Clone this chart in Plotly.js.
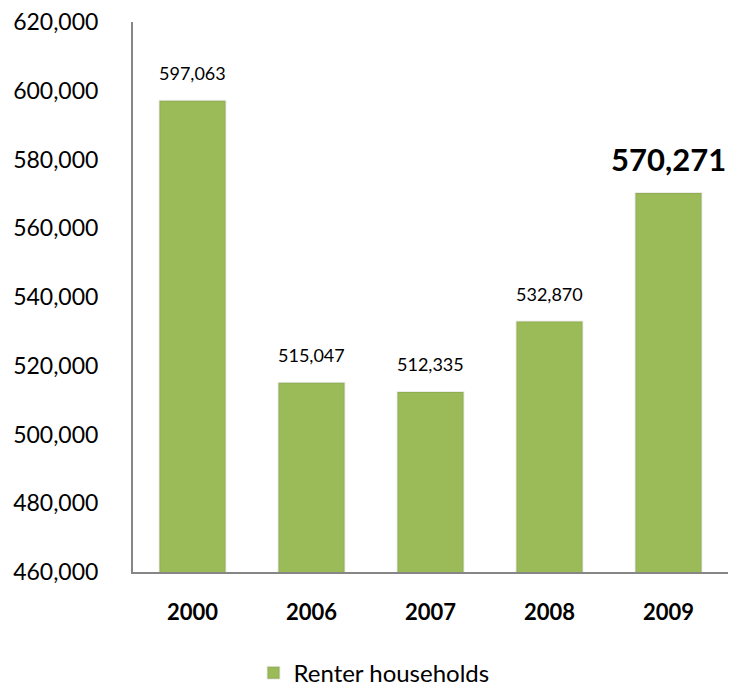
<!DOCTYPE html>
<html>
<head>
<meta charset="utf-8">
<script src="https://cdn.plot.ly/plotly-3.0.1.min.js"></script>
<style>html,body{margin:0;padding:0;background:#fff}#chart{width:748px;height:694px}</style>
</head>
<body>
<div id="chart"></div>
<script>
var years = ['2000', '2006', '2007', '2008', '2009'];
var renterHouseholds = [597063, 515047, 512335, 532870, 570271];
var seriesName = 'Renter households';
var yTicks = [460000, 480000, 500000, 520000, 540000, 560000, 580000, 600000, 620000];

var FONT = 'Lato, "Open Sans", sans-serif';
var GREEN = '#9BBB59';

function fmt(v) { return v.toLocaleString('en-US'); }

var trace = {
  type: 'bar',
  x: years,
  y: renterHouseholds,
  name: seriesName,
  marker: { color: GREEN, line: { color: 'rgba(0,0,0,0.07)', width: 2 } },
  hoverinfo: 'x+y',
  showlegend: true
};

var annotations = years.map(function (yr, i) {
  var last = i === years.length - 1;
  return {
    x: i, y: renterHouseholds[i], xref: 'x', yref: 'y',
    text: last ? '<b>' + fmt(renterHouseholds[i]) + '</b>' : fmt(renterHouseholds[i]),
    showarrow: false, yanchor: 'bottom', yshift: last ? 13 : 15,
    font: { family: FONT, size: last ? 31 : 18, color: '#000' }
  };
});

var layout = {
  width: 748, height: 694,
  margin: { l: 133, r: 20, t: 22, b: 122, autoexpand: false },
  paper_bgcolor: '#fff', plot_bgcolor: '#fff',
  bargap: 0.445,
  font: { family: FONT, color: '#000' },
  xaxis: {
    type: 'category', range: [-0.5, 4.5],
    showline: true, linecolor: '#868686', linewidth: 2,
    ticks: 'outside', ticklen: 20, tickcolor: 'rgba(0,0,0,0)',
    showgrid: false, zeroline: false,
    tickfont: { family: FONT, size: 22, weight: 'bold', color: '#000' }
  },
  yaxis: {
    range: [460000, 620000], tickvals: yTicks,
    ticktext: yTicks.map(fmt),
    showline: true, linecolor: '#868686', linewidth: 2,
    ticks: 'outside', ticklen: 28, tickcolor: 'rgba(0,0,0,0)',
    showgrid: false, zeroline: false,
    tickfont: { family: FONT, size: 23, color: '#000' }
  },
  showlegend: true,
  legend: {
    orientation: 'h', xref: 'container', x: 0.5, xanchor: 'center',
    yref: 'container', y: 0.03, yanchor: 'middle',
    font: { family: FONT, size: 24, color: '#000' }
  },
  annotations: annotations
};

Plotly.newPlot('chart', [trace], layout, { displayModeBar: false, staticPlot: true });
</script>
</body>
</html>
